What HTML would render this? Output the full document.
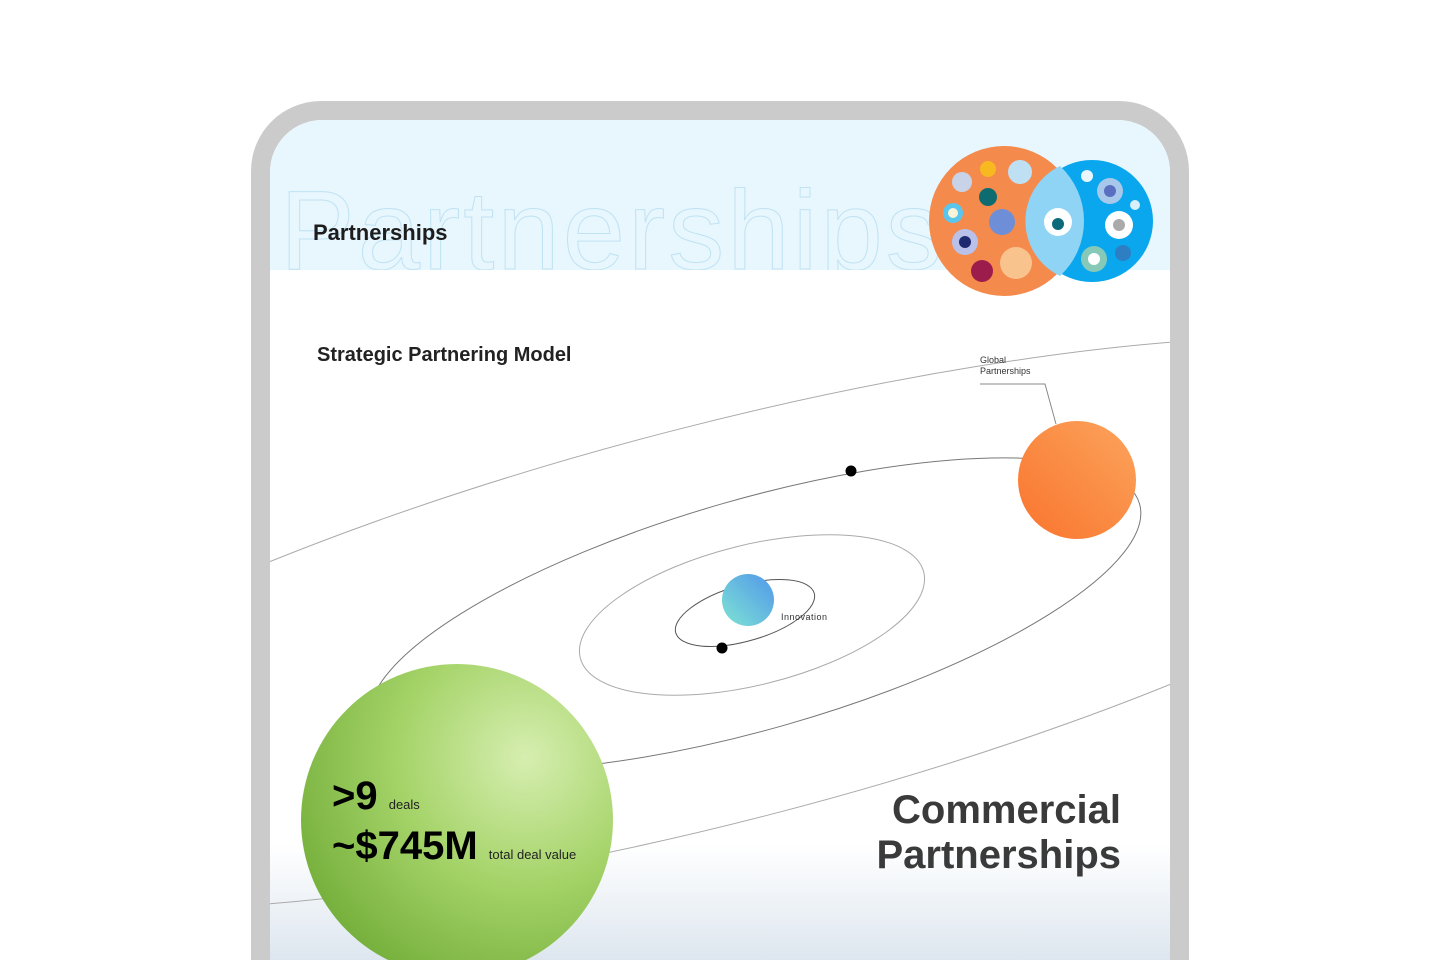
<!DOCTYPE html>
<html><head><meta charset="utf-8"><style>
html,body{margin:0;width:1440px;height:960px;overflow:hidden}
body{background:#fff;font-family:"Liberation Sans",sans-serif;position:relative}
.frame{position:absolute;left:251px;top:101px;width:938px;height:859px;background:#cbcbcb;border-radius:70px 70px 0 0}
.screen{position:absolute;left:270px;top:120px;width:900px;height:840px;border-radius:52px 52px 0 0;overflow:hidden;background:linear-gradient(#fff 0,#fff 725px,#dde6ef 840px)}
.band{position:absolute;left:0;top:0;width:900px;height:150px;background:#e8f6fd;overflow:hidden}
.big{position:absolute;left:10px;top:55px;font-size:112px;color:transparent;-webkit-text-stroke:1px #bfe3f3;letter-spacing:3px;white-space:nowrap;line-height:112px}
.t{position:absolute;white-space:nowrap}
</style></head><body>
<div class="frame"></div>
<div class="screen">
<div class="band"><div class="big">Partnerships</div></div>
<div class="t" style="left:43px;top:100px;font-size:22px;font-weight:bold;color:#1d1d1d">Partnerships</div>
<div class="t" style="left:47px;top:224px;font-size:20px;font-weight:bold;color:#222">Strategic Partnering Model</div>
<svg width="900" height="840" style="position:absolute;left:0;top:0" viewBox="270 120 900 840">
<ellipse cx="720" cy="623" rx="850" ry="198" transform="rotate(-14.5 720 623)" fill="none" stroke="#aaa" stroke-width="1"/>
<ellipse cx="755" cy="614" rx="400" ry="115" transform="rotate(-16 755 614)" fill="none" stroke="#777" stroke-width="1"/>
<ellipse cx="752" cy="615" rx="177" ry="70" transform="rotate(-14 752 615)" fill="none" stroke="#aaa" stroke-width="1"/>
<ellipse cx="745" cy="613" rx="72" ry="28" transform="rotate(-16 745 613)" fill="none" stroke="#555" stroke-width="1"/>
<polyline points="980,384 1045,384 1056,424" fill="none" stroke="#888" stroke-width="1"/>
<circle cx="851" cy="471" r="5.5" fill="#000"/>
<circle cx="722" cy="648" r="5.5" fill="#000"/>
<defs>
<radialGradient id="g" cx="0.72" cy="0.3" r="0.8"><stop offset="0" stop-color="#d6eeb0"/><stop offset="0.5" stop-color="#a6d46a"/><stop offset="1" stop-color="#76b03c"/></radialGradient>
<linearGradient id="o" x1="1" y1="0" x2="0" y2="1"><stop offset="0" stop-color="#fca45c"/><stop offset="1" stop-color="#f9742d"/></linearGradient>
<linearGradient id="b" x1="1" y1="0" x2="0" y2="1"><stop offset="0.2" stop-color="#5aa6e6"/><stop offset="1" stop-color="#7ee4d3"/></linearGradient>
</defs>
<circle cx="1077" cy="480" r="59" fill="url(#o)"/>
<circle cx="748" cy="600" r="26" fill="url(#b)"/>
<text x="781" y="620" font-size="9" fill="#333" font-family="Liberation Sans" letter-spacing="0.5">Innovation</text>
<text x="980" y="363" font-size="9" fill="#333" font-family="Liberation Sans">Global</text>
<text x="980" y="374" font-size="9" fill="#333" font-family="Liberation Sans">Partnerships</text>
<circle cx="457" cy="820" r="156" fill="url(#g)"/>
<circle cx="1004" cy="221" r="75" fill="#f48a4c"/>
<circle cx="1092" cy="221" r="61" fill="#0aa7ee"/>
<path d="M1060 166 A61 61 0 0 0 1060 276 A75 75 0 0 0 1060 166Z" fill="#8fd4f5"/>
<circle cx="1058" cy="222" r="14" fill="#fff"/><circle cx="1058" cy="224" r="6" fill="#0c6b7a"/>
<circle cx="962" cy="182" r="10" fill="#c9d3e8"/><circle cx="988" cy="169" r="8" fill="#f8b920"/>
<circle cx="1020" cy="172" r="12" fill="#bfe0f2"/><circle cx="988" cy="197" r="9" fill="#0e6b70"/>
<circle cx="953" cy="213" r="10" fill="#5ac6ee"/><circle cx="953" cy="213" r="5" fill="#f9f3d8"/>
<circle cx="1002" cy="222" r="13" fill="#6e8fd8"/><circle cx="965" cy="242" r="13" fill="#b9c1ea"/>
<circle cx="965" cy="242" r="6" fill="#1e2a70"/><circle cx="1016" cy="263" r="16" fill="#f9c38e"/>
<circle cx="982" cy="271" r="11" fill="#9c1c4b"/><circle cx="1110" cy="191" r="13" fill="#a7c8ea"/>
<circle cx="1110" cy="191" r="6" fill="#5a6fc0"/><circle cx="1087" cy="176" r="6" fill="#e9f6fd"/>
<circle cx="1119" cy="225" r="14" fill="#fff"/><circle cx="1119" cy="225" r="6" fill="#aaa"/>
<circle cx="1094" cy="259" r="13" fill="#86c9b8"/><circle cx="1094" cy="259" r="6" fill="#fff"/>
<circle cx="1123" cy="253" r="8" fill="#2d7ec2"/><circle cx="1135" cy="205" r="5" fill="#d8f0fa"/>
</svg>
<div class="t" style="left:62px;top:654px;font-size:40px;font-weight:bold;color:#000">&gt;9 <span style="font-size:13px;font-weight:normal;color:#222">deals</span></div>
<div class="t" style="left:62px;top:704px;font-size:40px;font-weight:bold;color:#000">~$745M <span style="font-size:13px;font-weight:normal;color:#222">total deal value</span></div>
<div class="t" style="right:49px;top:668px;font-size:40px;font-weight:bold;color:#3a3a3a;text-align:right;line-height:45px">Commercial<br>Partnerships</div>
</div>
</body></html>
